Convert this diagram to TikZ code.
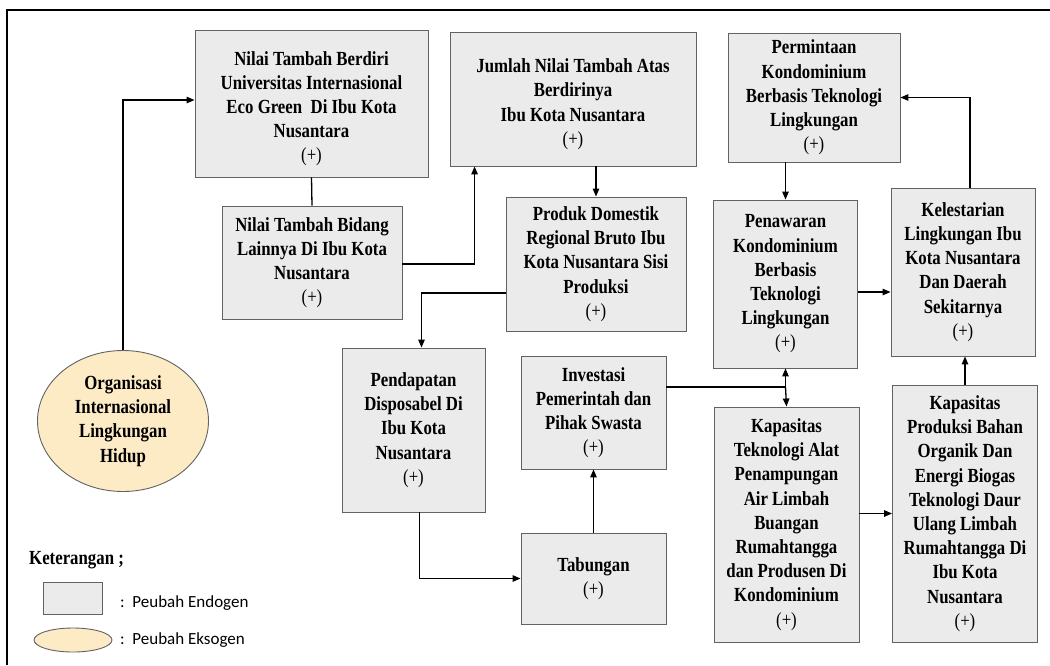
\documentclass[tikz,border=0pt]{standalone}
\usepackage{fontspec}
\setmainfont{Liberation Serif}[FakeStretch=0.84]
\newfontfamily\legendfont{Carlito}
\usepackage{xcolor}
\usepackage{tikz}
\usetikzlibrary{arrows.meta,shapes.geometric}
\definecolor{boxgray}{HTML}{EBEBEB}
\definecolor{edgegray}{HTML}{626262}
\definecolor{exocream}{HTML}{FDEBC6}
\newcommand{\sgnp}{\textmd{(+)}}

\begin{document}
\begin{tikzpicture}[
    x=1pt, y=-1pt,
    box/.style={
      draw=edgegray, line width=0.9pt, fill=boxgray, align=center,
      inner sep=1pt, font=\fontsize{20}{24.2}\selectfont\bfseries
    },
    exo/.style={
      ellipse, draw=edgegray, line width=0.9pt, fill=exocream, align=center,
      inner sep=0pt, font=\fontsize{20}{24.2}\selectfont\bfseries
    },
    legend/.style={font=\fontsize{17}{20}\selectfont\legendfont, anchor=west, inner sep=0pt},
    arrow/.style={-{Triangle[length=8pt,width=6.5pt]},line width=1.3pt},
    link/.style={line width=1.3pt}
  ]
    \useasboundingbox (0,0) rectangle (1050,665);
    \draw[line width=1.5pt] (7,665) -- (7,10) -- (1050,10);

    \node[box,minimum width=233pt,minimum height=147pt] (ntb) at (311.5,103.5)
      {\mbox{}\\Nilai Tambah Berdiri\\Universitas Internasional\\Eco Green\ \ Di Ibu Kota\\Nusantara\\\sgnp};
    \node[box,minimum width=180pt,minimum height=113pt] (ntl) at (312,262.5)
      {Nilai Tambah Bidang\\Lainnya Di Ibu Kota\\Nusantara\\\sgnp};
    \node[box,minimum width=246pt,minimum height=134pt] (jnt) at (573,99)
      {\mbox{}\\Jumlah Nilai Tambah Atas\\Berdirinya\\Ibu Kota Nusantara\\\sgnp};
    \node[box,minimum width=172pt,minimum height=129pt] (pkb) at (814,97.5)
      {Permintaan\\Kondominium\\Berbasis Teknologi\\Lingkungan\\\sgnp};
    \node[box,minimum width=180pt,minimum height=134pt] (pdrb) at (596,264)
      {Produk Domestik\\Regional Bruto Ibu\\Kota Nusantara Sisi\\Produksi\\\sgnp};
    \node[box,minimum width=144pt,minimum height=168pt] (pwk) at (785.5,284)
      {Penawaran\\Kondominium\\Berbasis\\Teknologi\\Lingkungan\\\sgnp};
    \node[box,minimum width=144pt,minimum height=168pt] (klh) at (963,272)
      {Kelestarian\\Lingkungan Ibu\\Kota Nusantara\\Dan Daerah\\Sekitarnya\\\sgnp};
    \node[box,minimum width=143pt,minimum height=164pt] (pdi) at (413.5,430)
      {Pendapatan\\Disposabel Di\\Ibu Kota\\Nusantara\\\sgnp};
    \node[box,minimum width=145pt,minimum height=113pt] (ips) at (593.5,412.5)
      {Investasi\\Pemerintah dan\\Pihak Swasta\\\sgnp};
    \node[box,minimum width=145pt,minimum height=91pt] (tab) at (593.5,578.5)
      {Tabungan\\\sgnp};
    \node[box,minimum width=145pt,minimum height=235pt] (kta) at (786.5,524.5)
      {Kapasitas\\Teknologi Alat\\Penampungan\\Air Limbah\\Buangan\\Rumahtangga\\dan Produsen Di\\Kondominium\\\sgnp};
    \node[box,minimum width=145pt,minimum height=257pt] (kpb) at (965,513.5)
      {Kapasitas\\Produksi Bahan\\Organik Dan\\Energi Biogas\\Teknologi Daur\\Ulang Limbah\\Rumahtangga Di\\Ibu Kota\\Nusantara\\\sgnp};
    \node[exo,minimum width=171pt,minimum height=141pt] (org) at (123,421)
      {Organisasi\\Internasional\\Lingkungan\\Hidup};

    % keterangan
    \node[anchor=west,inner sep=0pt,font=\fontsize{20}{24}\selectfont\bfseries] (ket) at (29,560) {Keterangan ;};
    \node[draw=edgegray,line width=0.9pt,fill=boxgray,minimum width=59pt,minimum height=32pt] (lgbox) at (72.5,598) {};
    \node[legend] (lgendo) at (120,603) {:\ \ Peubah Endogen};
    \node[ellipse,draw=edgegray,line width=0.9pt,fill=exocream,minimum width=78pt,minimum height=24pt] (lgell) at (73,640) {};
    \node[legend] (lgekso) at (120,640) {:\ \ Peubah Eksogen};

    % hubungan
    \draw[arrow] (org.north) |- ([yshift=3.5pt]ntb.west);
    \draw[link] (ntb.south) -- (ntl.north);
    \draw[arrow] ([yshift=-1.5pt]ntl.east) -| ([xshift=25pt]jnt.south west);
    \draw[arrow] (pdrb.north |- jnt.south) -- (pdrb.north);
    \draw[arrow] ([yshift=-29pt]pdrb.west) -| ([xshift=8pt]pdi.north);
    \draw[arrow] ([xshift=6pt]pdi.south) |- (tab.west);
    \draw[arrow] (tab.north) -- (ips.south);
    \path ([yshift=25.5pt]ips.east) coordinate (ipsr);
    \coordinate (jn) at (ipsr -| pwk.south);
    \draw[link] (ipsr) -- (jn);
    \draw[arrow] (jn) -- (pwk.south);
    \draw[arrow] (jn) -- (kta.north);
    \draw[arrow] (pwk.north |- pkb.south) -- (pwk.north);
    \draw[arrow] ([yshift=-8pt]pwk.east) -- ([yshift=-20pt]klh.west);
    \draw[arrow] ([xshift=7pt]klh.north) |- (pkb.east);
    \draw[arrow] (kpb.west -| kta.east) -- (kpb.west);
    \draw[arrow] (kpb.north) -- (kpb.north |- klh.south);
  \end{tikzpicture}
\end{document}
